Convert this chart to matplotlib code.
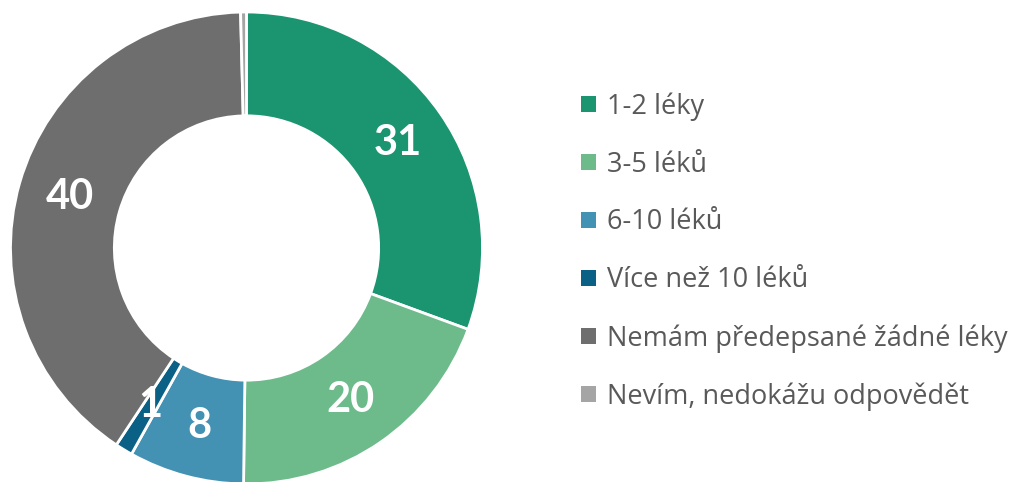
import matplotlib
matplotlib.use("Agg")
import matplotlib.pyplot as plt
import numpy as np

categories = ["1-2 léky", "3-5 léků", "6-10 léků", "Více než 10 léků",
              "Nemám předepsané žádné léky", "Nevím, nedokážu odpovědět"]
values = [30.6, 19.6, 7.9, 1.2, 40.3, 0.4]
labels = ["31", "20", "8", "1", "40", ""]
colors = ["#1B9470", "#6DBB8B", "#4391B3", "#0B6185", "#6E6E6E", "#A5A5A5"]

plt.rcParams['font.family'] = ['Lato', 'DejaVu Sans']

W, H = 1018, 482
fig = plt.figure(figsize=(W / 100, H / 100), dpi=100)
cx, cy, R = 246.5, 248, 236
ax = fig.add_axes([(cx - R) / W, (H - cy - R) / H, 2 * R / W, 2 * R / H])
width = 0.44
wedges, _ = ax.pie(values, colors=colors, startangle=90, counterclock=False,
                   radius=1, wedgeprops=dict(width=width, edgecolor="white", linewidth=2))
cum = np.cumsum([0] + values[:-1])
total = sum(values)
rmid = 1 - width / 2
for v, c, lab in zip(values, cum, labels):
    if not lab:
        continue
    ang = np.deg2rad(90 - (c + v / 2) / total * 360)
    ax.text(rmid * np.cos(ang), rmid * np.sin(ang), lab, ha="center", va="center",
            color="white", fontsize=30, fontweight="bold")
ax.set_xlim(-1, 1)
ax.set_ylim(-1, 1)
ax.set_aspect("equal")
ax.axis("off")

leg = fig.legend(wedges, categories, loc="upper left", bbox_to_anchor=(557 / W, 1 - 68 / H),
                 frameon=False, prop={"family": ["Open Sans", "DejaVu Sans"], "size": 19.5},
                 labelcolor="#595959",
                 handlelength=0.53, handleheight=0.53, handletextpad=0.42,
                 labelspacing=1.1)
for h in leg.legend_handles:
    h.set_edgecolor("none")

fig.savefig("out.png", dpi=100)
